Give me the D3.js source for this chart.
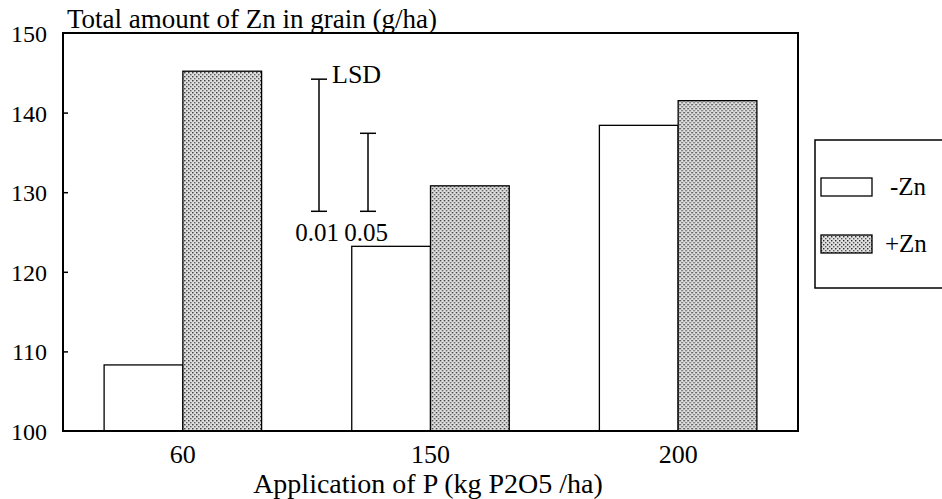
<!DOCTYPE html>
<html>
<head>
<meta charset="utf-8">
<script src="https://cdn.jsdelivr.net/npm/d3@7"></script>
<style>
  body { margin: 0; background: #fff; }
  svg text { fill: #000; }
</style>
</head>
<body>
<div id="chart"></div>
<script>
// values
var pRates = ["60", "150", "200"];
var treatments = ["-Zn", "+Zn"];
var minusZn = [108.3, 123.2, 138.4];
var plusZn = [145.2, 130.8, 141.5];
var yTicks = [100, 110, 120, 130, 140, 150];
var lsdLabels = ["0.01", "0.05"];
var lsdLow = [127.6, 127.6];
var lsdHigh = [144.2, 137.4];

var serif = "'Liberation Serif', 'Times New Roman', Times, 'DejaVu Serif', serif";
var fs = 24;

var width = 942, height = 499;
var margin = {top: 33, right: 144, bottom: 68, left: 63};

var svg = d3.select("#chart").append("svg")
    .attr("width", width)
    .attr("height", height)
    .style("font-family", serif);

// stipple pattern for +Zn
var defs = svg.append("defs");
var pat = defs.append("pattern")
    .attr("id", "dots")
    .attr("width", 4)
    .attr("height", 4)
    .attr("patternUnits", "userSpaceOnUse");
pat.append("rect").attr("width", 4).attr("height", 4).attr("fill", "#e0e0e0");
pat.append("rect").attr("x", 0).attr("y", 0).attr("width", 1.4).attr("height", 1.4).attr("fill", "#2a2a2a");
pat.append("rect").attr("x", 2).attr("y", 2).attr("width", 1.4).attr("height", 1.4).attr("fill", "#555");

var x0 = d3.scaleBand()
    .domain(pRates)
    .range([margin.left, width - margin.right])
    .paddingInner(0.364)
    .paddingOuter(0.166);

var x1 = d3.scaleBand()
    .domain(treatments)
    .range([0, x0.bandwidth()]);

var y = d3.scaleLinear()
    .domain([100, 150])
    .range([height - margin.bottom, margin.top]);

var rows = pRates.map(function (p, i) {
    return {p: p, values: [{t: "-Zn", v: minusZn[i]}, {t: "+Zn", v: plusZn[i]}]};
});

// bars
var groups = svg.append("g").selectAll("g")
    .data(rows)
    .enter().append("g")
    .attr("transform", d => `translate(${x0(d.p)},0)`);

groups.selectAll("rect")
    .data(d => d.values)
    .enter().append("rect")
    .attr("x", d => x1(d.t))
    .attr("y", d => y(d.v))
    .attr("width", x1.bandwidth())
    .attr("height", d => y(100) - y(d.v))
    .attr("fill", d => d.t == "+Zn" ? "url(#dots)" : "#fff")
    .attr("stroke", "#000")
    .attr("stroke-width", 1.3);

// frame
svg.append("rect")
    .attr("x", margin.left)
    .attr("y", margin.top)
    .attr("width", width - margin.left - margin.right)
    .attr("height", height - margin.top - margin.bottom)
    .attr("fill", "none")
    .attr("stroke", "#000")
    .attr("stroke-width", 2);

// y axis, ticks inside
var yAxis = svg.append("g")
    .attr("transform", `translate(${margin.left},0)`)
    .call(d3.axisRight(y).tickValues(yTicks).tickSize(5).tickFormat(d3.format("d")));
yAxis.attr("font-family", null).attr("font-size", null);
yAxis.select(".domain").remove();
yAxis.selectAll(".tick line").attr("stroke", "#000").attr("stroke-width", 1.5);
yAxis.selectAll(".tick text")
    .attr("x", -16)
    .attr("dy", "0.35em")
    .attr("text-anchor", "end")
    .style("font-family", serif)
    .style("font-size", fs + "px");
yAxis.selectAll(".tick").filter(d => d == 100 || d == 150).select("line").remove();

// x labels
var xAxis = svg.append("g")
    .attr("transform", `translate(0,${height - margin.bottom})`)
    .call(d3.axisBottom(x0).tickSize(0).tickPadding(14));
xAxis.attr("font-family", null).attr("font-size", null);
xAxis.select(".domain").remove();
xAxis.selectAll(".tick text")
    .style("font-family", serif)
    .style("font-size", "26px");

// titles
svg.append("text")
    .attr("x", margin.left + 4)
    .attr("y", margin.top - 5)
    .style("font-size", "27px")
    .text("Total amount of Zn in grain (g/ha)");

svg.append("text")
    .attr("x", 428)
    .attr("y", height - 6)
    .attr("text-anchor", "middle")
    .style("font-size", "28px")
    .text("Application of P (kg P2O5 /ha)");

// LSD bars
var lsdX = [319, 368];
var lsd = svg.append("g");
lsdLabels.forEach(function (lab, i) {
    var cx = lsdX[i];
    lsd.append("line")
        .attr("x1", cx).attr("x2", cx)
        .attr("y1", y(lsdLow[i])).attr("y2", y(lsdHigh[i]))
        .attr("stroke", "#000").attr("stroke-width", 1.5);
    [lsdLow[i], lsdHigh[i]].forEach(function (v) {
        lsd.append("line")
            .attr("x1", cx - 8).attr("x2", cx + 8)
            .attr("y1", y(v)).attr("y2", y(v))
            .attr("stroke", "#000").attr("stroke-width", 1.5);
    });
    lsd.append("text")
        .attr("x", cx - 2)
        .attr("y", y(lsdLow[i]) + 30)
        .attr("text-anchor", "middle")
        .style("font-size", "25px")
        .text(lab);
});
lsd.append("text")
    .attr("x", lsdX[0] + 13)
    .attr("y", y(lsdHigh[0]) + 4)
    .style("font-size", "26px")
    .text("LSD");

// legend
var leg = svg.append("g").attr("transform", "translate(815,140)");
leg.append("rect")
    .attr("width", 150)
    .attr("height", 148)
    .attr("fill", "#fff")
    .attr("stroke", "#000")
    .attr("stroke-width", 1.5);
treatments.forEach(function (t, i) {
    leg.append("rect")
        .attr("x", 6)
        .attr("y", 38 + i * 57)
        .attr("width", 51)
        .attr("height", 18)
        .attr("fill", t == "+Zn" ? "url(#dots)" : "#fff")
        .attr("stroke", "#000")
        .attr("stroke-width", 1.3);
    leg.append("text")
        .attr("x", 70 + (t == "-Zn" ? 5 : 0))
        .attr("y", 55 + i * 57)
        .style("font-size", "25px")
        .text(t);
});
</script>
</body>
</html>
